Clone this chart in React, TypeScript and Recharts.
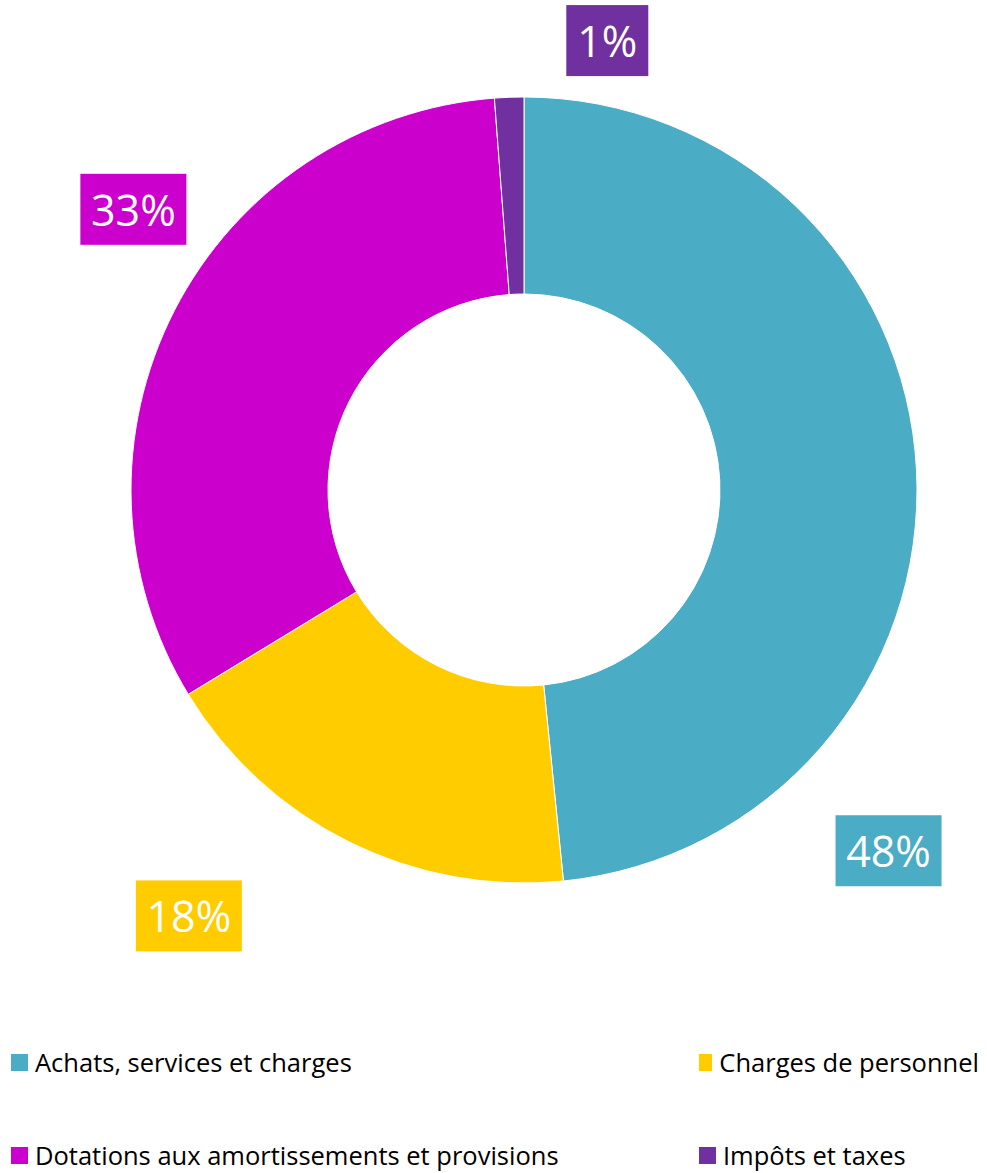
import { PieChart, Pie, Cell, Legend } from "recharts";

const categories = [
  "Achats, services et charges",
  "Charges de personnel",
  "Dotations aux amortissements et provisions",
  "Impôts et taxes",
];
const shares = [48.4, 17.9, 32.5, 1.2];
const colors = ["#4BACC6", "#FFCC00", "#CC00CC", "#7030A0"];

// where each boxed label sits: angle clockwise from 12 o'clock, distance as a multiple of outer radius
const labelSpots = [
  { angle: 134.7, dist: 1.305 },
  { angle: 218.2, dist: 1.379 },
  { angle: 305.7, dist: 1.224 },
  { angle: 10.5, dist: 1.163 },
];

const data = categories.map((name, i) => ({ name, value: shares[i] }));
const total = shares.reduce((a, b) => a + b, 0);

const FONT = "'Open Sans', 'DejaVu Sans', sans-serif";

function BoxLabel(props: any) {
  const { cx, cy, outerRadius, index, value } = props;
  const spot = labelSpots[index];
  const rad = (spot.angle * Math.PI) / 180;
  const r = outerRadius * spot.dist;
  const x = cx + r * Math.sin(rad);
  const y = cy - r * Math.cos(rad);
  const text = `${Math.round((value / total) * 100)}%`;
  const w = text.length === 2 ? 82 : 106;
  const h = 71;
  return (
    <g>
      <rect x={x - w / 2} y={y - h / 2} width={w} height={h} fill={colors[index]} />
      <text
        x={x}
        y={y}
        fill="#fff"
        fontSize={43}
        fontFamily={FONT}
        textAnchor="middle"
        dominantBaseline="central"
      >
        {text}
      </text>
    </g>
  );
}

function LegendBox() {
  return (
    <div
      style={{
        display: "grid",
        gridTemplateColumns: "688px 280px",
        rowGap: 67,
        fontFamily: FONT,
        fontSize: 25.5,
        color: "#000",
      }}
    >
      {categories.map((c, i) => (
        <div key={c} style={{ display: "flex", alignItems: "center", height: 26, whiteSpace: "nowrap" }}>
          <span
            style={{
              display: "inline-block",
              width: 17,
              height: 17,
              background: colors[i],
              marginRight: 7,
            }}
          />
          {c}
        </div>
      ))}
    </div>
  );
}

export default function App() {
  return (
    <div style={{ position: "absolute", left: 0, top: 0, background: "#fff" }}>
      <PieChart width={987} height={1173} margin={{ top: 0, right: 0, bottom: 0, left: 0 }}>
        <Pie
          data={data}
          dataKey="value"
          nameKey="name"
          cx={524}
          cy={490}
          innerRadius={196}
          outerRadius={393}
          startAngle={90}
          endAngle={-270}
          stroke="#fff"
          strokeWidth={1}
          label={BoxLabel}
          labelLine={false}
          isAnimationActive={false}
        >
          {data.map((d, i) => (
            <Cell key={d.name} fill={colors[i]} />
          ))}
        </Pie>
        <Legend
          content={<LegendBox />}
          wrapperStyle={{ position: "absolute", left: 11, top: 1049, width: 976 }}
        />
      </PieChart>
    </div>
  );
}
